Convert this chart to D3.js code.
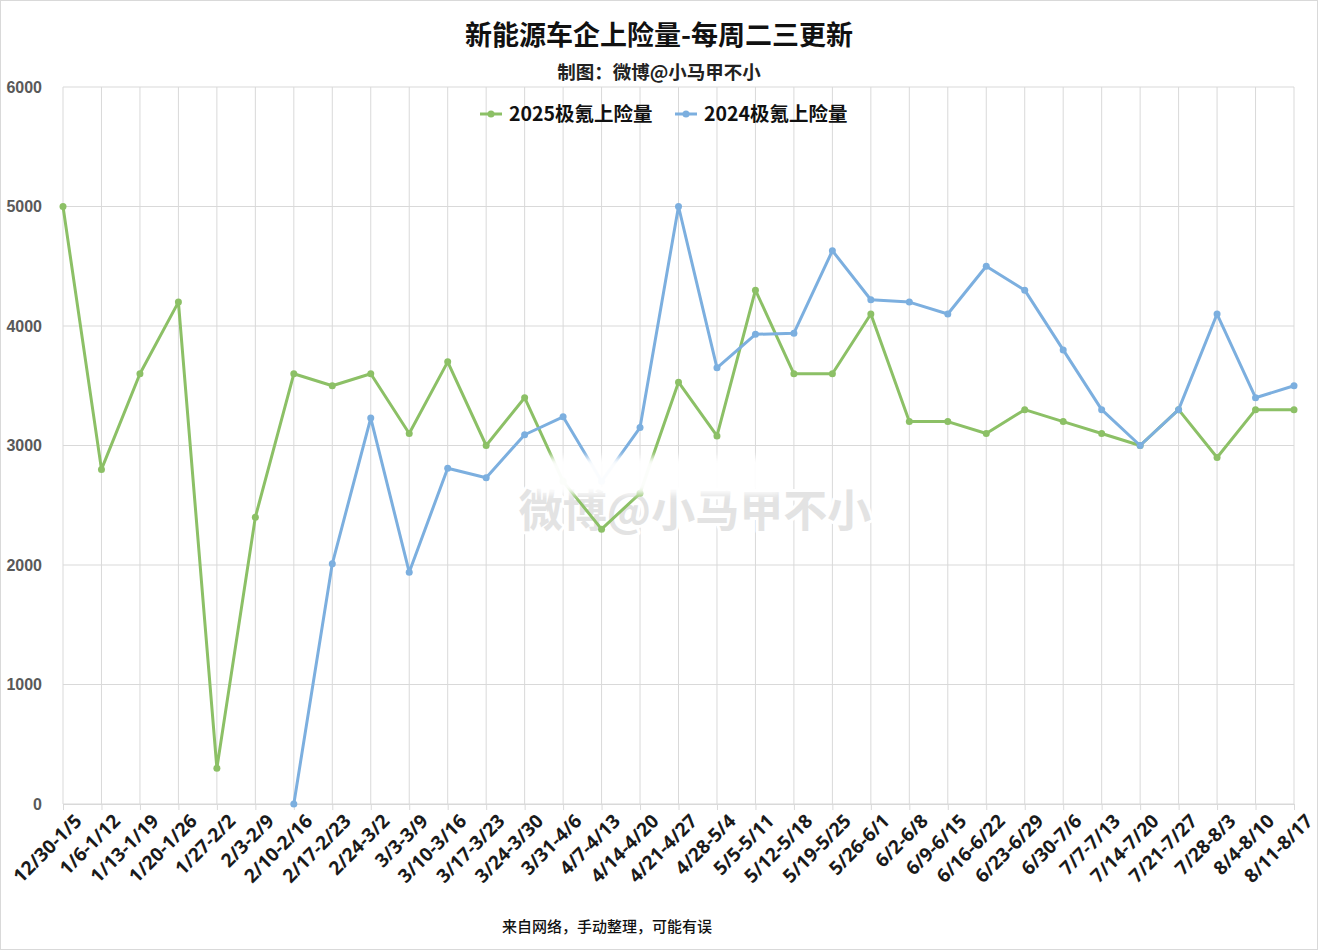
<!DOCTYPE html>
<html><head><meta charset="utf-8">
<script src="https://cdn.jsdelivr.net/npm/d3@7"></script>
<style>body{margin:0;background:#fff}svg{display:block}</style>
</head><body>
<script>
const categories = ["12/30-1/5","1/6-1/12","1/13-1/19","1/20-1/26","1/27-2/2","2/3-2/9","2/10-2/16","2/17-2/23","2/24-3/2","3/3-3/9","3/10-3/16","3/17-3/23","3/24-3/30","3/31-4/6","4/7-4/13","4/14-4/20","4/21-4/27","4/28-5/4","5/5-5/11","5/12-5/18","5/19-5/25","5/26-6/1","6/2-6/8","6/9-6/15","6/16-6/22","6/23-6/29","6/30-7/6","7/7-7/13","7/14-7/20","7/21-7/27","7/28-8/3","8/4-8/10","8/11-8/17"];
const values2025 = [5000,2800,3600,4200,300,2400,3600,3500,3600,3100,3700,3000,3400,2700,2300,2600,3530,3080,4300,3600,3600,4100,3200,3200,3100,3300,3200,3100,3000,3300,2900,3300,3300];
const values2024 = [null,null,null,null,null,null,0,2010,3230,1940,2810,2730,3090,3240,2700,3150,5000,3650,3930,3940,4630,4220,4200,4100,4500,4300,3800,3300,3000,3300,4100,3400,3500];
const yTicks = [0,1000,2000,3000,4000,5000,6000];
const seriesNames = ["2025极氪上险量","2024极氪上险量"];
const seriesColors = ["#8cc066","#7cafdf"];

(function(){
const W = 1318, H = 950;
const pL = 63, pR = 1294, pT = 87, pB = 804;
const svg = d3.select("body").append("svg").attr("width", W).attr("height", H);
const defs = svg.append("defs");
defs.append("filter").attr("id","blur").attr("x","-20%").attr("y","-50%").attr("width","140%").attr("height","200%")
  .append("feGaussianBlur").attr("stdDeviation",3.5);
svg.append("rect").attr("x",0.5).attr("y",0.5).attr("width",W-1).attr("height",H-1).attr("fill","#fff").attr("stroke","#d9d9d9");

const x = d3.scalePoint().domain(categories).range([pL, pR]);
const y = d3.scaleLinear().domain([0,6000]).range([pB, pT]);

svg.append("g").selectAll("line").data(yTicks).join("line")
  .attr("x1", pL).attr("x2", pR).attr("y1", d=>y(d)).attr("y2", d=>y(d))
  .attr("stroke", "#d9d9d9").attr("stroke-width", 1);
svg.append("g").selectAll("line").data(categories).join("line")
  .attr("x1", d=>x(d)).attr("x2", d=>x(d)).attr("y1", pT).attr("y2", pB)
  .attr("stroke", "#d9d9d9").attr("stroke-width", 1);

const yAxis = d3.axisLeft(y).tickValues(yTicks).tickSize(0).tickPadding(0).tickFormat(d3.format("d"));
const yg = svg.append("g").attr("transform", `translate(42,0)`).call(yAxis);
yg.select(".domain").remove();
yg.selectAll("text").attr("font-family","Liberation Sans, Arial, sans-serif").attr("font-size",16).attr("font-weight","bold").attr("fill","#595959");

const xAxis = d3.axisBottom(x).tickSize(6).tickPadding(4);
const xg = svg.append("g").attr("transform", `translate(0,${pB})`).call(xAxis);
xg.select(".domain").attr("stroke","#d9d9d9");
xg.selectAll(".tick line").attr("stroke","#d9d9d9");
xg.selectAll("text").attr("font-family","Open Sans, Noto Sans, sans-serif").attr("font-size",19).attr("font-weight","bold").attr("fill","#1a1a1a")
  .attr("text-anchor","end").attr("transform","translate(7,6) rotate(-45)").attr("dy","0.71em").attr("y",4);

svg.append("text").attr("x", 695).attr("y", 527).attr("text-anchor","middle")
  .attr("font-family","Noto Sans CJK SC, sans-serif").attr("font-size",44).attr("font-weight","bold")
  .attr("fill","#e3e3e3").attr("stroke","#ffffff").attr("stroke-width",6).attr("paint-order","stroke").attr("stroke-linejoin","round")
  .text("微博@小马甲不小");

const line = d3.line().defined(d=>d.v!==null).x(d=>x(d.c)).y(d=>y(d.v));
[values2025, values2024].forEach((vals, i) => {
  const data = categories.map((c,j)=>({c, v: vals[j]}));
  svg.append("path").datum(data).attr("d", line).attr("fill","none").attr("stroke", seriesColors[i]).attr("stroke-width",3).attr("stroke-linejoin","round");
  svg.append("g").selectAll("circle").data(data.filter(d=>d.v!==null)).join("circle")
    .attr("cx", d=>x(d.c)).attr("cy", d=>y(d.v)).attr("r",3.5).attr("fill", seriesColors[i]);
});

svg.append("rect").attr("x",535).attr("y",457).attr("width",248).attr("height",37).attr("rx",8)
  .attr("fill","#fff").attr("opacity",0.97).attr("filter","url(#blur)");

svg.append("text").attr("x", 659).attr("y", 45).attr("text-anchor","middle")
  .attr("font-family","Noto Sans CJK SC, sans-serif").attr("font-size",27).attr("font-weight","bold").attr("fill","#111")
  .text("新能源车企上险量-每周二三更新");
svg.append("text").attr("x", 659).attr("y", 79).attr("text-anchor","middle")
  .attr("font-family","Noto Sans CJK SC, sans-serif").attr("font-size",18.5).attr("font-weight","bold").attr("fill","#222")
  .text("制图：微博@小马甲不小");

const legX = [480, 675];
seriesNames.forEach((n,i)=>{
  const g = svg.append("g").attr("transform",`translate(${legX[i]},114)`);
  g.append("line").attr("x1",0).attr("x2",22).attr("stroke",seriesColors[i]).attr("stroke-width",3);
  g.append("circle").attr("cx",11).attr("r",3.5).attr("fill",seriesColors[i]);
  g.append("text").attr("x",29).attr("y",7).attr("font-family","Noto Sans CJK SC, sans-serif").attr("font-size",19.5).attr("font-weight","bold").attr("fill","#111").text(n);
});

svg.append("text").attr("x", 607).attr("y", 932).attr("text-anchor","middle")
  .attr("font-family","Noto Sans CJK SC, sans-serif").attr("font-size",15).attr("font-weight","500").attr("fill","#111")
  .text("来自网络，手动整理，可能有误");
})();
</script>
</body></html>
